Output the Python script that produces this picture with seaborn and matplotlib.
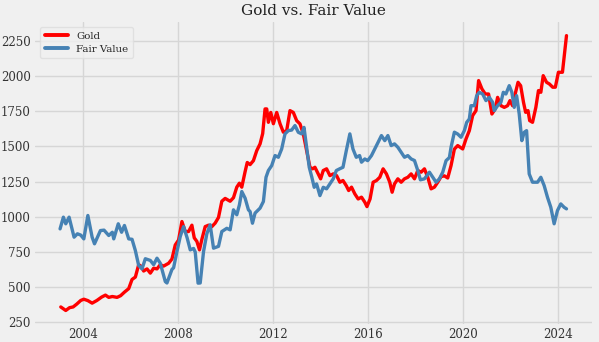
import matplotlib
matplotlib.use("Agg")
import matplotlib.pyplot as plt
import seaborn as sns
import pandas as pd

title = "Gold vs. Fair Value"
series_names = ["Gold", "Fair Value"]
xticks = [2004, 2008, 2012, 2016, 2020, 2024]
yticks = [250, 500, 750, 1000, 1250, 1500, 1750, 2000, 2250]

gold_years = [2003.08, 2003.29, 2003.45, 2003.6, 2003.75, 2003.92, 2004.05, 2004.22, 2004.4, 2004.6,
              2004.8, 2004.96, 2005.1, 2005.25, 2005.45, 2005.6, 2005.76, 2005.94, 2006.08, 2006.22,
              2006.36, 2006.45, 2006.57, 2006.71, 2006.85, 2006.99, 2007.13, 2007.27, 2007.41, 2007.62,
              2007.76, 2007.9, 2008.04, 2008.18, 2008.32, 2008.46, 2008.6, 2008.7, 2008.81, 2008.92,
              2009.02, 2009.16, 2009.3, 2009.44, 2009.58, 2009.72, 2009.86, 2010.0, 2010.21, 2010.35,
              2010.49, 2010.6, 2010.7, 2010.84, 2010.93, 2011.05, 2011.19, 2011.33, 2011.47, 2011.58,
              2011.68, 2011.75, 2011.82, 2011.92, 2012.03, 2012.17, 2012.31, 2012.45, 2012.59, 2012.73,
              2012.87, 2013.01, 2013.15, 2013.29, 2013.43, 2013.57, 2013.68, 2013.78, 2013.92, 2014.02,
              2014.13, 2014.27, 2014.41, 2014.55, 2014.69, 2014.83, 2014.96, 2015.1, 2015.2, 2015.32,
              2015.46, 2015.6, 2015.74, 2015.88, 2015.97, 2016.1, 2016.23, 2016.37, 2016.51, 2016.65,
              2016.79, 2016.93, 2017.03, 2017.13, 2017.27, 2017.41, 2017.55, 2017.69, 2017.83, 2017.97,
              2018.11, 2018.25, 2018.39, 2018.53, 2018.67, 2018.81, 2018.95, 2019.09, 2019.23, 2019.37,
              2019.51, 2019.65, 2019.79, 2020.0, 2020.14, 2020.28, 2020.42, 2020.56, 2020.67, 2020.81,
              2020.95, 2021.09, 2021.23, 2021.37, 2021.47, 2021.61, 2021.75, 2021.89, 2021.99, 2022.1,
              2022.21, 2022.33, 2022.44, 2022.56, 2022.65, 2022.75, 2022.82, 2022.94, 2023.08, 2023.19,
              2023.29, 2023.39, 2023.53, 2023.65, 2023.79, 2023.9, 2024.03, 2024.2, 2024.37]
gold_values = [360, 335, 355, 360, 380, 406, 415, 405, 387, 406,
               430, 444, 428, 434, 428, 440, 465, 490, 555, 572,
               660, 650, 615, 630, 600, 635, 630, 660, 650, 670,
               700, 800, 835, 966, 895, 895, 940, 850, 825, 765,
               840, 930, 940, 930, 955, 995, 1110, 1130, 1110, 1135,
               1210, 1238, 1210, 1320, 1385, 1370, 1398, 1469, 1517, 1590,
               1765, 1765, 1670, 1740, 1660, 1740, 1660, 1600, 1611, 1753,
               1740, 1682, 1659, 1588, 1469, 1351, 1340, 1351, 1304, 1269,
               1328, 1340, 1292, 1304, 1292, 1245, 1257, 1220, 1186, 1210,
               1162, 1126, 1139, 1103, 1072, 1126, 1245, 1257, 1280, 1340,
               1304, 1245, 1174, 1233, 1269, 1245, 1269, 1280, 1304, 1269,
               1328, 1316, 1340, 1280, 1198, 1210, 1245, 1285, 1290, 1275,
               1363, 1480, 1505, 1481, 1552, 1611, 1718, 1753, 1966, 1907,
               1871, 1871, 1729, 1765, 1847, 1788, 1776, 1788, 1824, 1788,
               1871, 1954, 1930, 1812, 1741, 1753, 1682, 1670, 1776, 1895,
               1883, 2001, 1954, 1942, 1919, 1919, 2025, 2025, 2285]

fair_years = [2003.05, 2003.19, 2003.29, 2003.43, 2003.64, 2003.78, 2003.92, 2004.05, 2004.22, 2004.4,
              2004.5, 2004.75, 2004.9, 2005.1, 2005.25, 2005.31, 2005.5, 2005.64, 2005.76, 2005.94,
              2006.08, 2006.22, 2006.36, 2006.5, 2006.64, 2006.85, 2006.99, 2007.13, 2007.27, 2007.48,
              2007.55, 2007.76, 2007.83, 2007.97, 2008.11, 2008.25, 2008.4, 2008.53, 2008.67, 2008.74,
              2008.86, 2008.95, 2009.09, 2009.23, 2009.37, 2009.51, 2009.72, 2009.86, 2010.07, 2010.21,
              2010.35, 2010.49, 2010.6, 2010.7, 2010.84, 2010.98, 2011.05, 2011.15, 2011.26, 2011.47,
              2011.61, 2011.72, 2011.82, 2011.96, 2012.1, 2012.24, 2012.38, 2012.52, 2012.66, 2012.8,
              2012.94, 2013.08, 2013.22, 2013.32, 2013.43, 2013.54, 2013.65, 2013.75, 2013.85, 2013.99,
              2014.13, 2014.27, 2014.41, 2014.55, 2014.68, 2014.82, 2014.96, 2015.1, 2015.25, 2015.38,
              2015.52, 2015.66, 2015.74, 2015.88, 2016.0, 2016.16, 2016.37, 2016.58, 2016.72, 2016.85,
              2016.99, 2017.13, 2017.27, 2017.41, 2017.55, 2017.69, 2017.83, 2017.97, 2018.11, 2018.22,
              2018.39, 2018.6, 2018.74, 2018.88, 2019.02, 2019.16, 2019.3, 2019.44, 2019.51, 2019.65,
              2019.79, 2019.93, 2020.07, 2020.17, 2020.28, 2020.35, 2020.49, 2020.59, 2020.7, 2020.84,
              2020.98, 2021.12, 2021.26, 2021.33, 2021.47, 2021.61, 2021.71, 2021.82, 2021.96, 2022.07,
              2022.17, 2022.27, 2022.38, 2022.49, 2022.59, 2022.69, 2022.8, 2022.94, 2023.15, 2023.29,
              2023.43, 2023.57, 2023.71, 2023.85, 2023.99, 2024.13, 2024.27, 2024.37]
fair_values = [914, 997, 950, 997, 855, 879, 870, 843, 1009, 855,
               808, 902, 905, 867, 890, 843, 950, 890, 938, 843,
               840, 760, 654, 630, 702, 690, 660, 706, 670, 540,
               530, 626, 638, 753, 860, 930, 850, 765, 775, 750,
               529, 530, 753, 880, 943, 777, 790, 895, 918, 907,
               1049, 1014, 1084, 1179, 1132, 1049, 1037, 954, 1026, 1061,
               1108, 1280, 1328, 1363, 1434, 1422, 1481, 1588, 1611, 1615,
               1647, 1599, 1588, 1634, 1493, 1351, 1280, 1209, 1233, 1150,
               1209, 1198, 1233, 1269, 1328, 1340, 1351, 1469, 1588, 1481,
               1422, 1434, 1387, 1410, 1398, 1434, 1505, 1576, 1540, 1576,
               1505, 1517, 1493, 1458, 1422, 1434, 1410, 1399, 1328, 1262,
               1269, 1316, 1280, 1245, 1269, 1316, 1398, 1420, 1493, 1600,
               1587, 1564, 1611, 1670, 1694, 1788, 1788, 1859, 1883, 1871,
               1824, 1847, 1812, 1753, 1788, 1812, 1883, 1871, 1930, 1883,
               1776, 1859, 1729, 1540, 1599, 1611, 1304, 1245, 1245, 1280,
               1221, 1138, 1067, 950, 1044, 1091, 1067, 1056]

df = pd.concat([
    pd.DataFrame({"year": gold_years, "value": gold_values, "series": series_names[0]}),
    pd.DataFrame({"year": fair_years, "value": fair_values, "series": series_names[1]}),
], ignore_index=True)

sns.set_theme(style="whitegrid", rc={
    "axes.facecolor": "#f0f0f0",
    "figure.facecolor": "#f0f0f0",
    "grid.color": "#d6d6d6",
    "grid.linewidth": 1.0,
    "axes.edgecolor": "#f0f0f0",
})
plt.rcParams["font.family"] = ["DejaVu Serif"]

fig = plt.figure(figsize=(5.99, 3.42), dpi=100)
ax = fig.add_axes([0.058, 0.052, 0.93, 0.884])
sns.lineplot(data=df, x="year", y="value", hue="series", sort=False,
             palette={"Gold": "#ff0000", "Fair Value": "#4682b4"},
             linewidth=2.4, ax=ax)

ax.set_xticks(xticks)
ax.set_xticklabels([str(t) for t in xticks])
ax.set_yticks(yticks)
ax.tick_params(axis="both", labelsize=8.5, length=0, colors="#333333", pad=3)
ax.set_xlabel("")
ax.set_ylabel("")
ax.set_title(title, fontsize=11, color="#222222", pad=5)
for s in ax.spines.values():
    s.set_visible(False)

leg = ax.legend(loc="upper left", fontsize=7.4, frameon=True, handlelength=2.3,
                borderpad=0.45, labelspacing=0.35)
leg.get_frame().set_facecolor("#f0f0f0")
leg.get_frame().set_edgecolor("#dddddd")
for line in leg.get_lines():
    line.set_linewidth(2.8)

fig.savefig("out.png", dpi=100, facecolor=fig.get_facecolor())
